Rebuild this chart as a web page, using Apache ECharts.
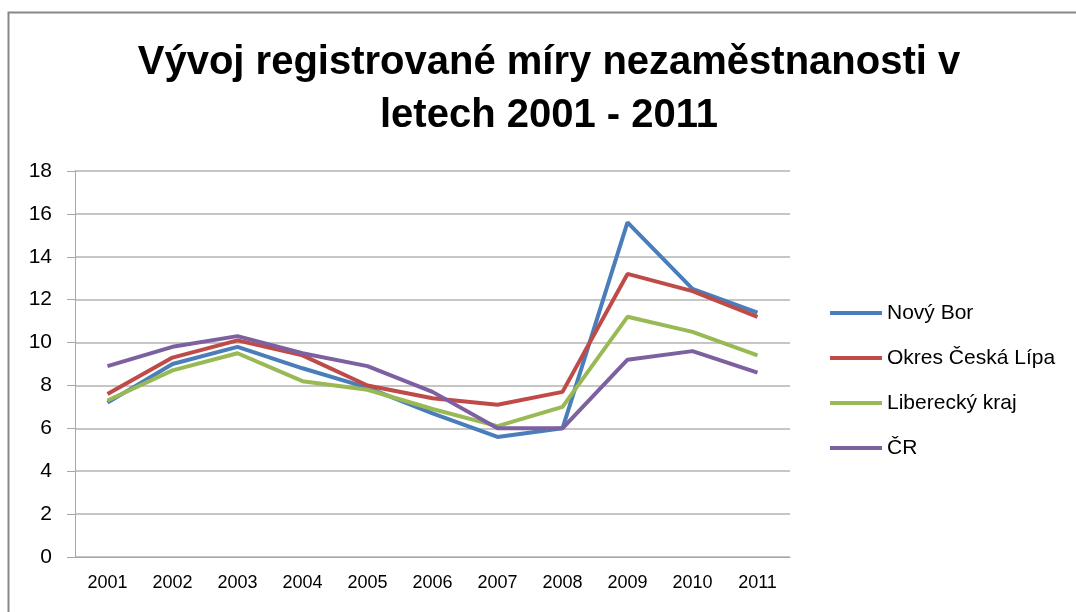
<!DOCTYPE html>
<html>
<head>
<meta charset="utf-8">
<script src="https://cdn.jsdelivr.net/npm/echarts@6/dist/echarts.min.js"></script>
<style>
  html, body { margin: 0; padding: 0; background: #fff; }
  #chart { width: 1076px; height: 612px; }
</style>
</head>
<body>
<div id="chart"></div>
<script>
const years = ['2001', '2002', '2003', '2004', '2005', '2006', '2007', '2008', '2009', '2010', '2011'];
const novyBor = [7.2, 9.0, 9.8, 8.8, 7.9, 6.7, 5.6, 6.0, 15.6, 12.5, 11.4];
const ceskaLipa = [7.6, 9.3, 10.1, 9.4, 8.0, 7.4, 7.1, 7.7, 13.2, 12.4, 11.2];
const liberecky = [7.3, 8.7, 9.5, 8.2, 7.8, 6.9, 6.1, 7.0, 11.2, 10.5, 9.4];
const cr = [8.9, 9.8, 10.3, 9.5, 8.9, 7.7, 6.0, 6.0, 9.2, 9.6, 8.6];

const chart = echarts.init(document.getElementById('chart'));

function line(name, data, color) {
  return {
    name: name,
    type: 'line',
    data: data,
    symbol: 'none',
    color: color,
    lineStyle: { width: 4, color: color }
  };
}

chart.setOption({
  animation: false,
  graphic: [{
    type: 'rect',
    shape: { x: 8.5, y: 12.5, width: 1200, height: 800 },
    style: { fill: 'none', stroke: '#888', lineWidth: 2 }
  }],
  title: {
    text: 'Vývoj registrované míry nezaměstnanosti v\nletech 2001 - 2011',
    left: 549,
    top: 36,
    textAlign: 'center',
    padding: 0,
    textStyle: {
      fontFamily: 'Liberation Sans',
      fontWeight: 'bold',
      fontSize: 40,
      lineHeight: 53,
      color: '#000'
    }
  },
  legend: {
    orient: 'vertical',
    left: 830,
    top: 301,
    padding: 0,
    itemWidth: 52,
    itemHeight: 4,
    itemGap: 21,
    icon: 'rect',
    textStyle: { fontFamily: 'Liberation Sans', fontSize: 21, lineHeight: 24, color: '#000' }
  },
  grid: { left: 75, right: 286, top: 171, bottom: 55 },
  xAxis: {
    type: 'category',
    data: years,
    axisLine: { lineStyle: { color: '#a6a6a6', width: 1 } },
    axisTick: { length: 6, lineStyle: { color: '#a6a6a6' } },
    axisLabel: {
      margin: 17,
      fontFamily: 'Liberation Sans',
      fontSize: 18,
      color: '#000'
    }
  },
  yAxis: {
    type: 'value',
    min: 0,
    max: 18,
    interval: 2,
    axisLine: { show: true, lineStyle: { color: '#a6a6a6', width: 1 } },
    axisTick: { show: true, length: 8, lineStyle: { color: '#a6a6a6' } },
    splitLine: { lineStyle: { color: '#b3b3b3', width: 1.5 } },
    axisLabel: {
      margin: 23,
      fontFamily: 'Liberation Sans',
      fontSize: 21,
      color: '#000'
    }
  },
  series: [
    line('Nový Bor', novyBor, '#4a7ebb'),
    line('Okres Česká Lípa', ceskaLipa, '#be4b48'),
    line('Liberecký kraj', liberecky, '#98b954'),
    line('ČR', cr, '#7d60a0')
  ]
});
</script>
</body>
</html>
